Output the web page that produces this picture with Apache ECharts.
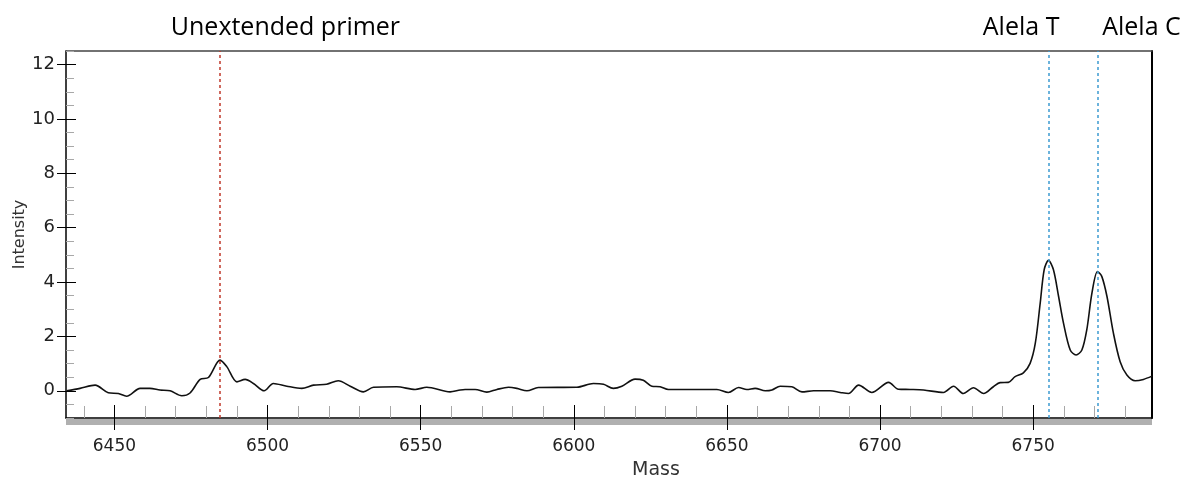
<!DOCTYPE html>
<html>
<head>
<meta charset="utf-8">
<script src="https://cdn.jsdelivr.net/npm/echarts@6/dist/echarts.min.js"></script>
<style>html,body{margin:0;padding:0;background:#fff}#c{width:1185px;height:478px}</style>
</head>
<body>
<div id="c"></div>
<script>
// ---- data ----
const masses = [6434.4,6438.8,6443.7,6448.0,6451.3,6454.0,6458.4,6461.6,6464.9,6468.2,6472.0,6474.7,6478.0,6480.7,6484.5,6486.7,6490.0,6492.7,6495.4,6498.9,6501.9,6506.3,6511.2,6515.0,6519.3,6523.1,6527.0,6531.3,6534.6,6542.2,6548.2,6552.0,6559.6,6562.9,6564.5,6567.8,6571.6,6574.9,6578.7,6581.4,6584.7,6588.4,6601.0,6606.4,6609.7,6612.9,6615.7,6620.0,6622.7,6625.5,6628.2,6630.9,6646.7,6650.5,6653.8,6656.5,6659.2,6662.5,6664.7,6667.4,6671.2,6674.5,6678.3,6683.7,6687.0,6689.7,6693.0,6697.3,6702.8,6706.0,6709.8,6714.2,6720.7,6724.0,6727.2,6730.5,6733.8,6737.0,6739.2,6741.9,6744.1,6746.8,6749.0,6750.7,6752.3,6753.6,6755.0,6756.6,6758.3,6759.9,6762.1,6764.0,6765.9,6767.5,6769.2,6771.0,6772.4,6774.1,6776.2,6778.4,6780.6,6783.3,6786.0,6788.8];
const intensities = [0.00,0.09,0.21,-0.07,-0.10,-0.20,0.09,0.09,0.03,0.00,-0.18,-0.08,0.42,0.49,1.13,0.89,0.33,0.42,0.27,0.00,0.27,0.17,0.09,0.21,0.24,0.37,0.17,-0.04,0.13,0.15,0.05,0.13,-0.04,0.03,0.05,0.05,-0.05,0.05,0.13,0.09,0.00,0.12,0.13,0.27,0.24,0.09,0.17,0.43,0.39,0.17,0.15,0.05,0.05,-0.06,0.12,0.05,0.09,0.00,0.03,0.17,0.15,-0.04,0.00,0.00,-0.06,-0.10,0.21,-0.06,0.31,0.06,0.05,0.03,-0.06,0.17,-0.10,0.11,-0.10,0.15,0.30,0.31,0.52,0.66,1.01,1.75,3.23,4.46,4.80,4.46,3.47,2.49,1.50,1.32,1.50,2.24,3.60,4.39,4.21,3.47,2.12,1.07,0.58,0.37,0.42,0.54];
const markerMasses = [6484.3, 6755.2, 6771.0];
const markerLabels = ['Unextended primer', 'Alela T', 'Alela C'];
const markerColors = ['#c0392b', '#3d9ad1', '#3d9ad1'];
const markerOffsets = [[66, -3], [-28, -3], [44, -3]];
const xTicks = [6450, 6500, 6550, 6600, 6650, 6700, 6750];
const xMinorTicks = [6440,6460,6470,6480,6490,6510,6520,6530,6540,6560,6570,6580,6590,6610,6620,6630,6640,6660,6670,6680,6690,6710,6720,6730,6740,6760,6770,6780];
const yTicks = [0, 2, 4, 6, 8, 10, 12];
const xMin = 6434.2, xMax = 6788.8, yMin = -1, yMax = 12.5;

const chart = echarts.init(document.getElementById('c'), null, {renderer: 'canvas'});
const tickFont = {fontFamily: '"DejaVu Sans", sans-serif', fontSize: 17, color: '#222', formatter: v => String(v)};
const hidden = {show: false};
function xBase(extra) {
  return Object.assign({type: 'value', min: xMin, max: xMax, position: 'bottom',
    axisLine: {show: false, onZero: false}, axisTick: hidden, axisLabel: hidden, splitLine: hidden}, extra);
}
function yBase(extra) {
  return Object.assign({type: 'value', min: yMin, max: yMax, position: 'left',
    axisLine: {show: false, onZero: false}, axisTick: hidden, axisLabel: hidden, splitLine: hidden}, extra);
}

const option = {
  animation: false,
  backgroundColor: '#fff',
  grid: {left: 66, right: 33, top: 51, bottom: 60, containLabel: false, outerBoundsMode: 'none'},
  xAxis: [
    // gray band under axis
    xBase({offset: 4, axisLine: {show: true, onZero: false, lineStyle: {color: '#b0b0b0', width: 6, cap: 'butt'}}}),
    // minor ticks
    xBase({axisTick: {show: true, inside: true, length: 12, customValues: xMinorTicks, lineStyle: {color: '#a8a8a8', width: 1}}}),
    // major inner ticks
    xBase({axisTick: {show: true, inside: true, length: 13, customValues: xTicks, lineStyle: {color: '#000', width: 1}}}),
    // main axis
    xBase({
      axisLine: {show: true, onZero: false, lineStyle: {color: '#000', width: 1.5}},
      axisTick: {show: true, inside: false, length: 12, customValues: xTicks, lineStyle: {color: '#000', width: 1}},
      axisLabel: Object.assign({show: true, margin: 20, customValues: xTicks}, tickFont),
      name: 'Mass', nameLocation: 'middle', nameGap: 43,
      nameTextStyle: {fontFamily: '"DejaVu Sans", sans-serif', fontSize: 19, color: '#333', padding: [0, 0, 0, 94]}
    }),
    // top border
    xBase({position: 'top', axisLine: {show: true, onZero: false, lineStyle: {color: '#444', width: 1.5}}})
  ],
  yAxis: [
    yBase({axisTick: {show: true, inside: true, length: 8, lineStyle: {color: '#a8a8a8'}}, interval: 0.5}),
    yBase({axisTick: {show: true, inside: true, length: 10, customValues: yTicks, lineStyle: {color: '#000'}}}),
    yBase({
      axisLine: {show: true, onZero: false, lineStyle: {color: '#000', width: 1.5}},
      axisTick: {show: true, inside: false, length: 9, customValues: yTicks, lineStyle: {color: '#000'}},
      axisLabel: Object.assign({show: true, margin: 11, customValues: yTicks}, Object.assign({}, tickFont, {fontSize: 18})),
      name: 'Intensity', nameLocation: 'middle', nameGap: 46, nameRotate: 90, nameMoveOverlap: false,
      nameTextStyle: {fontFamily: '"DejaVu Sans", sans-serif', fontSize: 16, color: '#333', verticalAlign: 'middle'}
    }),
    yBase({position: 'right', axisLine: {show: true, onZero: false, lineStyle: {color: '#000', width: 2}}})
  ],
  series: [{
    type: 'line',
    xAxisIndex: 3, yAxisIndex: 2,
    data: masses.map((m, i) => [m, intensities[i]]),
    showSymbol: false,
    smooth: 0.3,
    lineStyle: {color: '#111', width: 1.6},
    markLine: {
      silent: true,
      symbol: ['none', 'none'],
      animation: false,
      data: markerMasses.map((m, i) => ({
        xAxis: m,
        lineStyle: {color: markerColors[i], type: [3, 3], width: 1.5},
        label: {
          show: true, position: 'end', formatter: markerLabels[i],
          offset: markerOffsets[i], distance: 5,
          fontFamily: '"Open Sans", sans-serif', fontSize: 25, color: '#000', lineHeight: 30
        }
      }))
    }
  }]
};
chart.setOption(option);
</script>
</body>
</html>
